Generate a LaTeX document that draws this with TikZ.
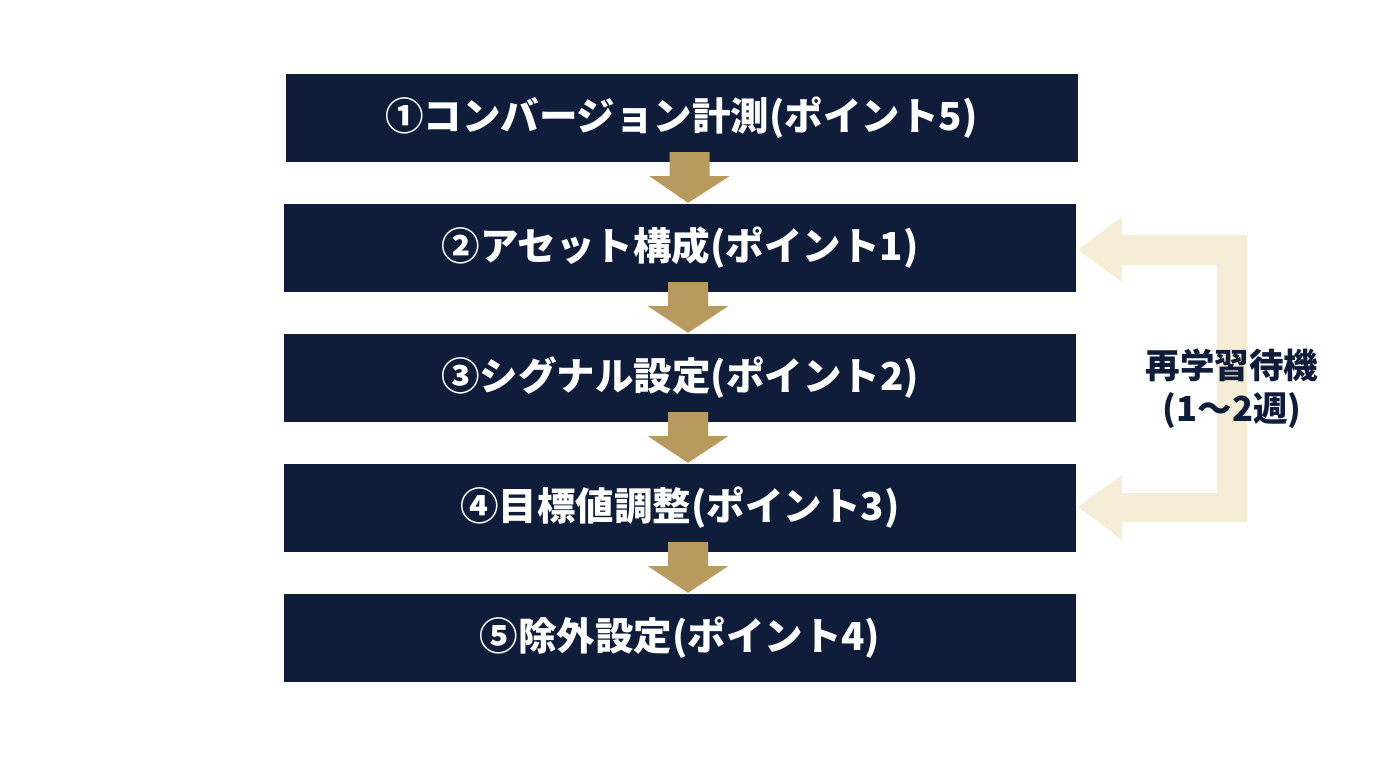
\documentclass[tikz,border=0pt]{standalone}
\usepackage{fontspec}
\setmainfont{Noto Sans CJK JP}
\usepackage{tikz}
\usetikzlibrary{calc}
\definecolor{navy}{HTML}{0F1D3B}
\definecolor{gold}{HTML}{B99A5E}
\definecolor{cream}{HTML}{F6EDD6}
\tikzstyle{stepbox} = [fill=navy, text=white, minimum width=792pt, minimum height=88pt,
  inner sep=0pt, font=\fontsize{38.5}{40}\selectfont\bfseries]
\tikzstyle{downarrow} = [fill=gold, draw=none]
\tikzstyle{loopnote} = [text=navy, align=center, font=\fontsize{34.5}{43}\selectfont\bfseries]

\begin{document}
\begin{tikzpicture}[x=1pt, y=-1pt]
	\useasboundingbox[fill=white] (0,0) rectangle (1376,768);
	% process steps
	\node[stepbox] (b1) at (681.5,118) {①コンバージョン計測(ポイント5)};
	\node[stepbox] (b2) at (680,248) {②アセット構成(ポイント1)};
	\node[stepbox] (b3) at (680,378) {③シグナル設定(ポイント2)};
	\node[stepbox] (b4) at (680,508) {④目標値調整(ポイント3)};
	\node[stepbox] (b5) at (680,638) {⑤除外設定(ポイント4)};
	% arrows between steps
	\foreach \a/\b in {b1/b2, b2/b3, b3/b4, b4/b5} {
		\fill[downarrow] ($(\a.south)+(-12,-10)$) -- ($(\a.south)+(28,-10)$)
			-- ($(\a.south)+(28,14)$) -- ($(\a.south)+(48,14)$)
			-- ($(\b.north)+(8,-1)$) -- ($(\a.south)+(-32,14)$)
			-- ($(\a.south)+(-12,14)$) -- cycle;
	}
	% loop back from step 4 to step 2
	\fill[cream] ($(b2.east)+(2,2)$) -- (1122,217) -- (1122,235) -- (1247,235)
		-- (1247,522) -- (1122,522) -- (1122,540) -- ($(b4.east)+(2,-1)$)
		-- (1122,475) -- (1122,493) -- (1217,493) -- (1217,265)
		-- (1122,265) -- (1122,282) -- cycle;
	\node[loopnote] (wait) at (1232,389) {再学習待機\\(1〜2週)};
\end{tikzpicture}
\end{document}
